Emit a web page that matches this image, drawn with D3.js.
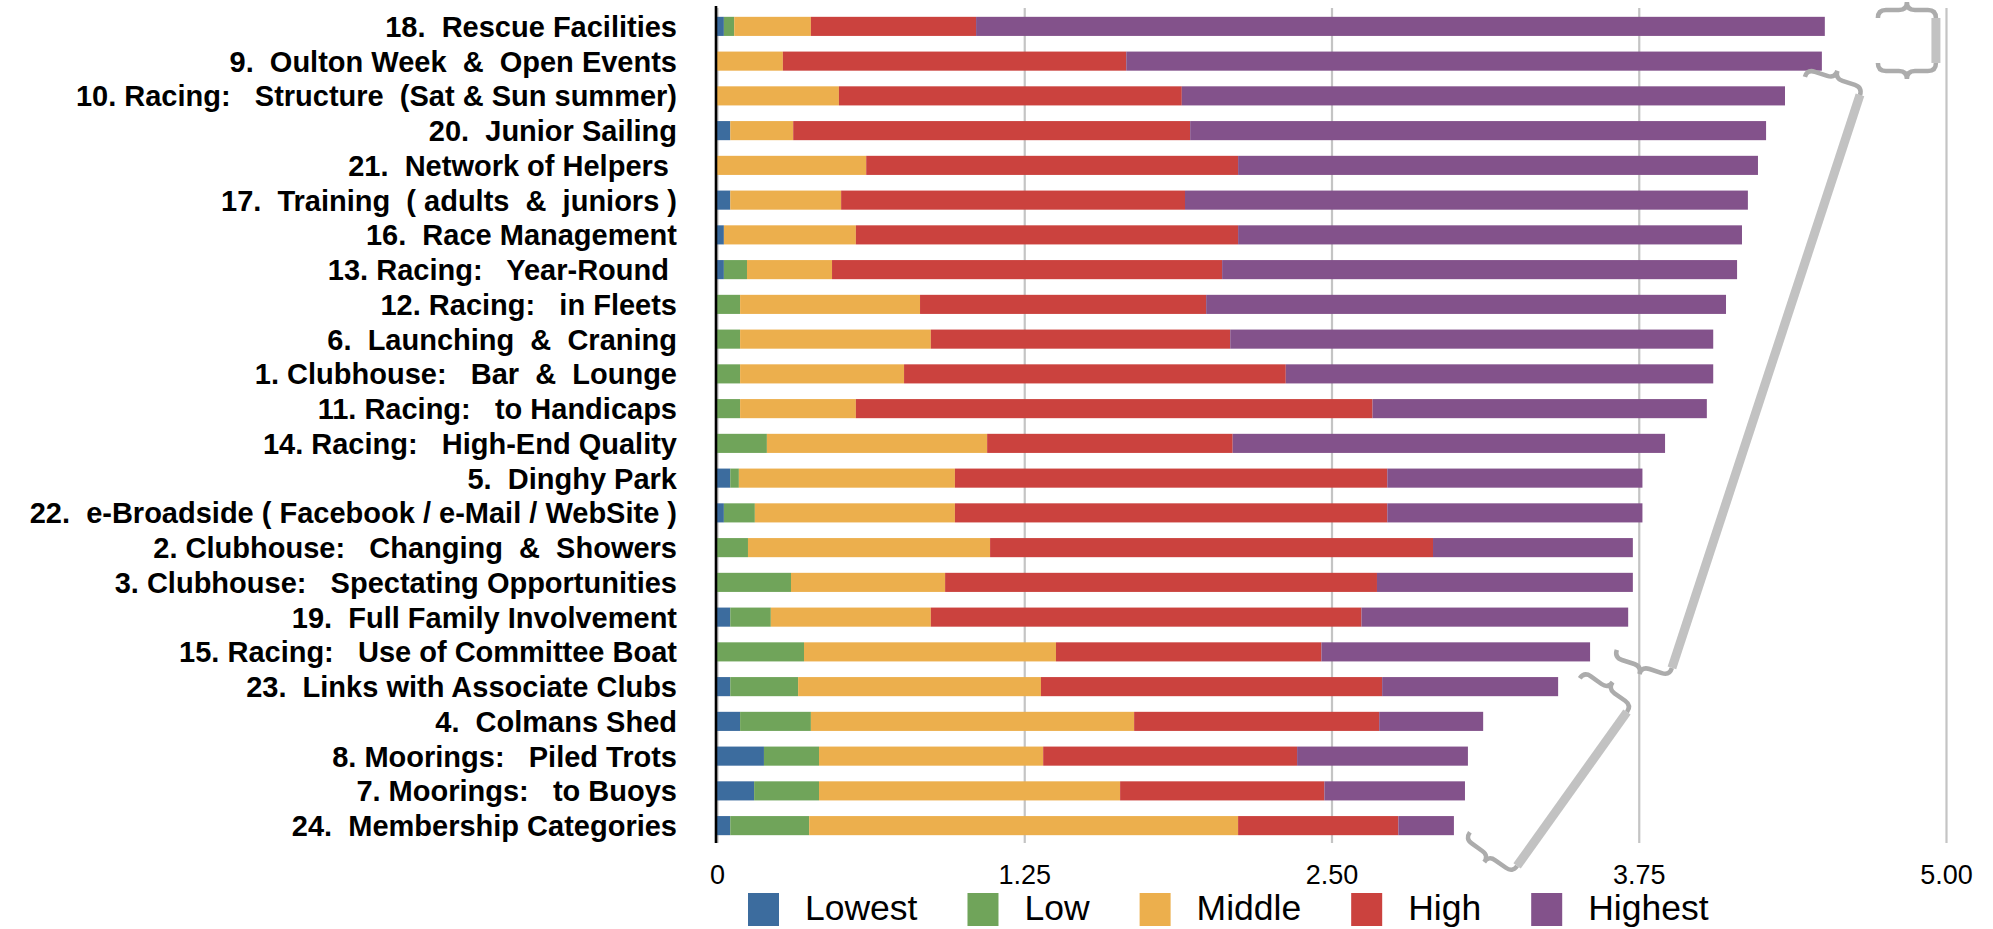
<!DOCTYPE html>
<html>
<head>
<meta charset="utf-8">
<script src="https://cdn.jsdelivr.net/npm/d3@7/dist/d3.min.js"></script>
<style>
  html, body { margin: 0; padding: 0; background: #ffffff; }
  svg { display: block; }
  text { font-family: "Liberation Sans", Arial, Helvetica, sans-serif; white-space: pre; }
</style>
</head>
<body>
<svg id="chart" width="1993" height="929" xml:space="preserve"></svg>
<script>
// ---------------- DATA ----------------
const categories = [
  "18.  Rescue Facilities",
  "9.  Oulton Week  &  Open Events",
  "10. Racing:   Structure  (Sat & Sun summer)",
  "20.  Junior Sailing",
  "21.  Network of Helpers ",
  "17.  Training  ( adults  &  juniors )",
  "16.  Race Management",
  "13. Racing:   Year-Round ",
  "12. Racing:   in Fleets",
  "6.  Launching  &  Craning",
  "1. Clubhouse:   Bar  &  Lounge",
  "11. Racing:   to Handicaps",
  "14. Racing:   High-End Quality",
  "5.  Dinghy Park",
  "22.  e-Broadside ( Facebook / e-Mail / WebSite )",
  "2. Clubhouse:   Changing  &  Showers",
  "3. Clubhouse:   Spectating Opportunities",
  "19.  Full Family Involvement",
  "15. Racing:   Use of Committee Boat",
  "23.  Links with Associate Clubs",
  "4.  Colmans Shed",
  "8. Moorings:   Piled Trots",
  "7. Moorings:   to Buoys",
  "24.  Membership Categories"
];

const seriesNames = ["Lowest", "Low", "Middle", "High", "Highest"];

const lowest  = [0.028, 0, 0, 0.054, 0, 0.054, 0.028, 0.028, 0, 0, 0, 0, 0, 0.054, 0.028, 0, 0, 0.054, 0, 0.054, 0.094, 0.191, 0.151, 0.054];
const low     = [0.042, 0, 0, 0, 0, 0, 0, 0.094, 0.094, 0.094, 0.094, 0.094, 0.203, 0.035, 0.126, 0.126, 0.301, 0.165, 0.354, 0.276, 0.288, 0.224, 0.264, 0.321];
const middle  = [0.312, 0.268, 0.496, 0.256, 0.607, 0.451, 0.537, 0.346, 0.732, 0.776, 0.667, 0.471, 0.896, 0.879, 0.814, 0.985, 0.627, 0.651, 1.025, 0.988, 1.315, 0.912, 1.225, 1.745];
const high    = [0.672, 1.397, 1.395, 1.615, 1.513, 1.399, 1.555, 1.587, 1.164, 1.218, 1.553, 2.102, 0.999, 1.759, 1.759, 1.802, 1.757, 1.752, 1.080, 1.388, 0.997, 1.033, 0.831, 0.652];
const highest = [3.453, 2.830, 2.454, 2.343, 2.115, 2.290, 2.050, 2.095, 2.115, 1.965, 1.739, 1.360, 1.759, 1.038, 1.038, 0.813, 1.041, 1.085, 1.093, 0.716, 0.423, 0.695, 0.572, 0.226];

const tickValues = [0, 1.25, 2.5, 3.75, 5];
const tickLabels = ["0", "1.25", "2.50", "3.75", "5.00"];

// decorative bracket annotations, in data units: [value, row index]
const bracketTops    = [[4.959, -0.242], [4.650, 1.974], [3.702, 19.730]];
const bracketBottoms = [[4.959, 1.053],  [3.885, 18.463], [3.255, 24.161]];

// ---------------- STYLE ----------------
const colors = ["#3c6c9e", "#70a45a", "#ecaf4d", "#cb423e", "#83528b"];

// ---------------- BUILD ----------------
const seriesValues = [lowest, low, middle, high, highest];
const table = categories.map((c, i) => {
  const row = { category: c };
  seriesNames.forEach((s, k) => row[s] = seriesValues[k][i]);
  return row;
});

const svg = d3.select("#chart");
const plotTop = 8, plotBottom = 843;

const x = d3.scaleLinear().domain([0, 5]).range([717, 1946]);
const y = d3.scaleBand().domain(categories).range([9, 843]).paddingInner(0.45).paddingOuter(0.225);
const color = d3.scaleOrdinal().domain(seriesNames).range(colors);
const rowY = d3.scaleLinear().domain([0, categories.length - 1])
  .range([y(categories[0]) + y.bandwidth() / 2, y(categories[categories.length - 1]) + y.bandwidth() / 2]);

// grid + tick labels
const xAxis = d3.axisBottom(x)
  .tickValues(tickValues)
  .tickFormat((d, i) => tickLabels[i])
  .tickSize(-(plotBottom - plotTop))
  .tickPadding(22);

const gx = svg.append("g")
  .attr("transform", `translate(0,${plotBottom})`)
  .call(xAxis);
gx.select(".domain").remove();
gx.selectAll(".tick line").attr("stroke", "#c4c4c4").attr("stroke-width", 2.2);
gx.selectAll(".tick text")
  .attr("fill", "#000")
  .style("font-size", "27px")
  .style("font-family", "\"Liberation Sans\", Arial, Helvetica, sans-serif");

// stacked bars
const stacked = d3.stack().keys(seriesNames)(table);
svg.append("g").selectAll("g")
  .data(stacked)
  .join("g")
  .attr("fill", d => color(d.key))
  .selectAll("rect")
  .data(d => d)
  .join("rect")
  .attr("x", d => x(d[0]))
  .attr("y", d => y(d.data.category))
  .attr("width", d => Math.max(0, x(d[1]) - x(d[0])))
  .attr("height", y.bandwidth());

// vertical axis line
svg.append("line")
  .attr("x1", x(0) - 1).attr("x2", x(0) - 1)
  .attr("y1", 6).attr("y2", plotBottom)
  .attr("stroke", "#000").attr("stroke-width", 2.6);

// category labels
svg.append("g").selectAll("text")
  .data(categories)
  .join("text")
  .attr("x", 677)
  .attr("y", d => y(d) + y.bandwidth() / 2)
  .attr("dy", "0.36em")
  .attr("text-anchor", "end")
  .attr("xml:space", "preserve")
  .style("font-size", "29px")
  .style("font-weight", "bold")
  .attr("fill", "#000")
  .text(d => d);

// legend
const legend = svg.append("g");
let lx = 748;
seriesNames.forEach((s, i) => {
  legend.append("rect")
    .attr("x", lx).attr("y", 893)
    .attr("width", 31).attr("height", 33)
    .attr("fill", color(s));
  const t = legend.append("text")
    .attr("x", lx + 57).attr("y", 920)
    .style("font-size", "35.5px")
    .attr("fill", "#000")
    .text(s);
  const w = t.node().getComputedTextLength();
  lx = lx + 57 + w + 50;
});

// decorative brackets
const ann = svg.append("g");
const L = 58, h1 = 8, h2 = 8, r = 8;
function bracePath(E, n, o) {
  const pt = (u, v) => [E[0] + n[0] * u + o[0] * v, E[1] + n[1] * u + o[1] * v];
  const f = p => p[0].toFixed(1) + "," + p[1].toFixed(1);
  return "M" + f(pt(0, 0)) +
    " Q" + f(pt(0, h1)) + " " + f(pt(r, h1)) +
    " L" + f(pt(L / 2 - r, h1)) +
    " Q" + f(pt(L / 2, h1)) + " " + f(pt(L / 2, h1 + h2)) +
    " Q" + f(pt(L / 2, h1)) + " " + f(pt(L / 2 + r, h1)) +
    " L" + f(pt(L - r, h1)) +
    " Q" + f(pt(L, h1)) + " " + f(pt(L, 0));
}
bracketTops.forEach((tp, i) => {
  const P = [x(tp[0]), rowY(tp[1])];
  const Q = [x(bracketBottoms[i][0]), rowY(bracketBottoms[i][1])];
  const len = Math.hypot(Q[0] - P[0], Q[1] - P[1]);
  const d = [(Q[0] - P[0]) / len, (Q[1] - P[1]) / len];
  const n = [-d[1], d[0]];
  ann.append("line")
    .attr("x1", P[0]).attr("y1", P[1])
    .attr("x2", Q[0]).attr("y2", Q[1])
    .attr("stroke", "#c2c2c2").attr("stroke-width", 9);
  ann.append("path").attr("d", bracePath(P, n, [-d[0], -d[1]]))
    .attr("fill", "none").attr("stroke", "#acacac").attr("stroke-width", 4.5);
  ann.append("path").attr("d", bracePath(Q, n, d))
    .attr("fill", "none").attr("stroke", "#acacac").attr("stroke-width", 4.5);
});
</script>
</body>
</html>
